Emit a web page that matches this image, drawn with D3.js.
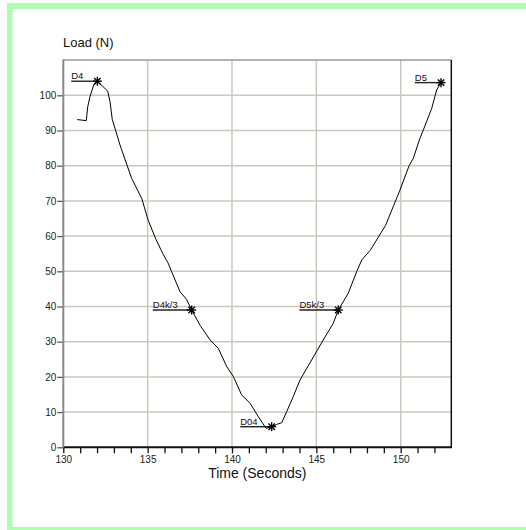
<!DOCTYPE html>
<html>
<head>
<meta charset="utf-8">
<script src="https://cdn.jsdelivr.net/npm/d3@7"></script>
<style>
  html, body { margin: 0; padding: 0; background: #fff; overflow: hidden; }
  svg { display: block; font-family: "Liberation Sans", Arial, sans-serif; }
</style>
</head>
<body>
<script>
// Load measured over time during the unload/reload cycle
const time = [130.83, 131.36, 131.45, 131.58, 131.82, 132.02, 132.63, 132.77, 132.9, 133.36,
  134.05, 134.65, 135.03, 135.5, 135.9, 136.22, 136.42, 136.92, 137.31, 137.61,
  138.10, 138.7, 139.19, 139.69, 140.08, 140.57, 141.07, 141.56, 142.02, 142.35,
  142.65, 142.95, 143.24, 143.63, 144.03, 144.72, 145.41, 146.0, 146.3, 146.89,
  147.39, 147.69, 148.2, 149.1, 149.95, 150.5, 150.75, 151.14, 151.34, 151.84,
  152.13, 152.39];
const load = [93.1, 92.8, 96.8, 99.6, 103.2, 104.0, 101.2, 98.2, 93.2, 85.9,
  76.4, 70.7, 64.5, 59.0, 55.0, 52.3, 49.9, 44.2, 42.0, 39.0,
  34.7, 30.5, 28.1, 22.9, 20.1, 14.9, 12.5, 8.7, 5.4, 5.85,
  6.5, 7.0, 10.1, 14.4, 19.1, 24.8, 30.5, 35.2, 39.0, 43.75,
  49.9, 53.2, 56.0, 63.0, 73.0, 80.0, 82.1, 87.8, 90.1, 96.3,
  101.5, 103.6];

// Annotated points on the curve
const markerLabels = ["D4", "D4k/3", "D04", "D5k/3", "D5"];
const markerTime = [132.02, 137.61, 142.35, 146.3, 152.39];
const markerLoad = [104.0, 39.0, 5.85, 39.0, 103.6];

const xTicks = d3.range(130, 153, 1);
const xLabelled = [130, 135, 140, 145, 150];
const yTicks = [0, 10, 20, 30, 40, 50, 60, 70, 80, 90, 100];
const xGrid = [135, 140, 145, 150];
const yGrid = [10, 20, 30, 40, 50, 60, 70, 80, 90, 100];

const W = 526, H = 530;
const plotL = 63.3, plotR = 451.3, plotT = 60.1, plotB = 447.3;

const svg = d3.select("body").append("svg").attr("width", W).attr("height", H);

// White page background
svg.append("rect").attr("width", W).attr("height", H).attr("fill", "#fff");

// Green page frame (top, left and bottom bands)
const frame = svg.append("g").attr("fill", "#b0fcb0");
frame.append("rect").attr("x", 7).attr("y", 3).attr("width", W - 7).attr("height", 6);
frame.append("rect").attr("x", 7).attr("y", 3).attr("width", 5.5).attr("height", H - 3);
frame.append("rect").attr("x", 7).attr("y", 527).attr("width", W - 7).attr("height", 3);

const x = d3.scaleLinear().domain([130, 153]).range([plotL, plotR]);
const y = d3.scaleLinear().domain([0, 110]).range([plotB, plotT]);

// Grid
svg.append("g").selectAll("line").data(xGrid).join("line")
  .attr("x1", d => x(d)).attr("x2", d => x(d))
  .attr("y1", plotT).attr("y2", plotB)
  .attr("stroke", "#ccc7bc").attr("stroke-width", 1.5);
svg.append("g").selectAll("line").data(yGrid).join("line")
  .attr("x1", plotL).attr("x2", plotR)
  .attr("y1", d => y(d)).attr("y2", d => y(d))
  .attr("stroke", "#ccc7bc").attr("stroke-width", 1.5);

// Frame of the plot area
svg.append("line").attr("x1", plotL).attr("x2", plotR).attr("y1", plotT).attr("y2", plotT)
  .attr("stroke", "#9a9a9a").attr("stroke-width", 1.5);
svg.append("line").attr("x1", plotR).attr("x2", plotR).attr("y1", plotT).attr("y2", plotB)
  .attr("stroke", "#111").attr("stroke-width", 1.5);

// Axes
const xAxis = d3.axisBottom(x).tickValues(xTicks).tickSize(6).tickPadding(3)
  .tickFormat(d => xLabelled.includes(d) ? d : "");
const gx = svg.append("g").attr("transform", `translate(0,${plotB})`).call(xAxis);
gx.select(".domain").remove();
gx.selectAll(".tick line").attr("stroke", "#111").attr("stroke-width", 1.3);
gx.selectAll("text").attr("font-size", 10).attr("fill", "#222")
  .attr("font-family", "Liberation Sans, Arial, sans-serif");
svg.append("line").attr("x1", plotL).attr("x2", plotR + 0.7).attr("y1", plotB).attr("y2", plotB)
  .attr("stroke", "#111").attr("stroke-width", 2);

const yAxis = d3.axisLeft(y).tickValues(yTicks).tickSize(6).tickPadding(1);
const gy = svg.append("g").attr("transform", `translate(${plotL},0)`).call(yAxis);
gy.select(".domain").remove();
gy.selectAll(".tick line").attr("stroke", "#555").attr("stroke-width", 1.3);
gy.selectAll("text").attr("font-size", 10).attr("fill", "#222")
  .attr("font-family", "Liberation Sans, Arial, sans-serif");
svg.append("line").attr("x1", plotL).attr("x2", plotL).attr("y1", plotT - 0.7).attr("y2", plotB)
  .attr("stroke", "#8a8a8a").attr("stroke-width", 2);

// Axis titles
svg.append("text").attr("x", 63).attr("y", 47).attr("font-size", 13).attr("fill", "#111")
  .text("Load (N)");
svg.append("text").attr("x", (plotL + plotR) / 2).attr("y", 478).attr("text-anchor", "middle")
  .attr("font-size", 14).attr("fill", "#111").text("Time (Seconds)");

// Curve
const pts = time.map((t, i) => [t, load[i]]);
svg.append("path").datum(pts)
  .attr("d", d3.line().x(d => x(d[0])).y(d => y(d[1])))
  .attr("fill", "none").attr("stroke", "#000").attr("stroke-width", 1);

// Annotations: underlined label leading to an asterisk marker
const markers = markerLabels.map((l, i) => ({ label: l, t: markerTime[i], v: markerLoad[i] }));
const mg = svg.append("g").selectAll("g").data(markers).join("g")
  .attr("transform", d => `translate(${x(d.t)},${y(d.v)})`);
const txt = mg.append("text").attr("x", -14).attr("y", -2).attr("text-anchor", "end")
  .attr("font-size", 9.5).attr("fill", "#111").text(d => d.label);
txt.each(function () {
  const w = this.getComputedTextLength();
  d3.select(this.parentNode).insert("line", "text")
    .attr("x1", -14 - w).attr("x2", 0).attr("y1", 0).attr("y2", 0)
    .attr("stroke", "#222").attr("stroke-width", 1.4);
});
const r = 4.5;
[0, 45, 90, 135].forEach(a => {
  const rad = a * Math.PI / 180;
  mg.append("line")
    .attr("x1", -r * Math.cos(rad)).attr("y1", -r * Math.sin(rad))
    .attr("x2", r * Math.cos(rad)).attr("y2", r * Math.sin(rad))
    .attr("stroke", "#000").attr("stroke-width", 1.4);
});
</script>
</body>
</html>
